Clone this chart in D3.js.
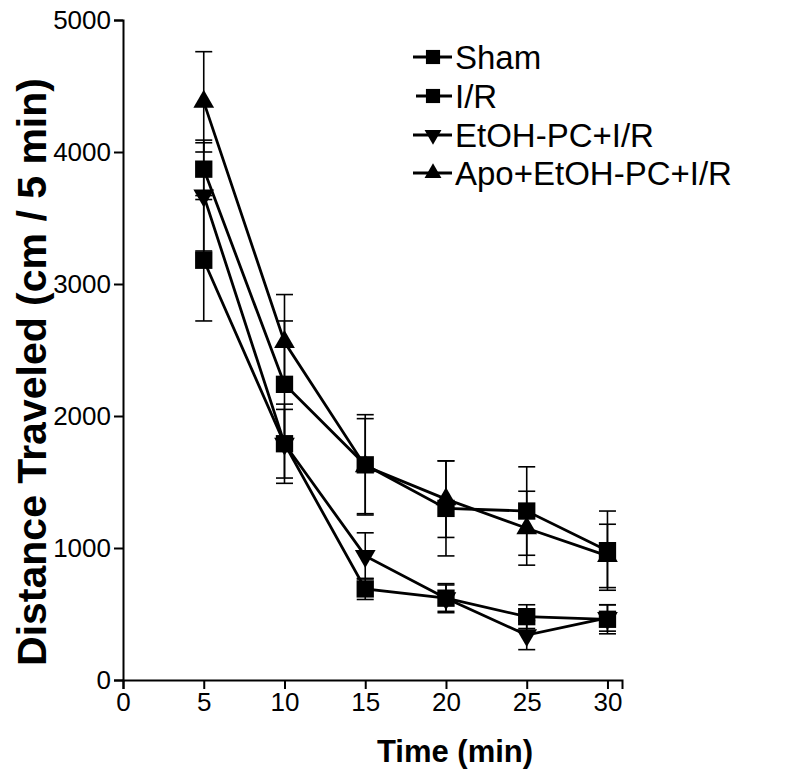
<!DOCTYPE html>
<html><head><meta charset="utf-8">
<script src="https://cdn.jsdelivr.net/npm/d3@7"></script>
<style>body{margin:0;background:#fff}svg{display:block}</style>
</head><body>
<script>
const times = [5, 10, 15, 20, 25, 30];
const seriesNames = ["Sham", "I/R", "EtOH-PC+I/R", "Apo+EtOH-PC+I/R"];
const seriesSymbols = ["square", "square", "down", "up"];
const shamMean = [3180, 1790, 690, 620, 480, 460];
const shamErr  = [460, 260, 80, 110, 90, 110];
const irMean   = [3870, 2240, 1630, 1300, 1280, 980];
const irErr    = [200, 480, 380, 360, 335, 300];
const etohMean = [3670, 1790, 940, 620, 340, 470];
const etohErr  = [420, 300, 175, 100, 110, 100];
const apoMean  = [4380, 2560, 1620, 1370, 1150, 940];
const apoErr   = [380, 360, 360, 290, 280, 240];
const xTicks = [0, 5, 10, 15, 20, 25, 30];
const yTicks = [0, 1000, 2000, 3000, 4000, 5000];
const xTitle = "Time (min)";
const yTitle = "Distance Traveled (cm / 5 min)";

const means = [shamMean, irMean, etohMean, apoMean];
const errs = [shamErr, irErr, etohErr, apoErr];

const W = 800, H = 779;
const svg = d3.select("body").append("svg").attr("width", W).attr("height", H);
const x = d3.scaleLinear().domain([0, 30.9]).range([123, 622]);
const y = d3.scaleLinear().domain([0, 5000]).range([680, 20]);
const font = "'Liberation Sans', Arial, sans-serif";

function symPath(kind, size) {
  if (kind === "square") return d3.symbol(d3.symbolSquare, size)();
  return d3.symbol(d3.symbolTriangle, size * 0.62)();
}
function symTransform(kind, cx, cy) {
  return `translate(${cx},${cy})` + (kind === "down" ? " rotate(180)" : "");
}

// axes
const xAxis = svg.append("g").attr("transform", `translate(0,${y(0)})`)
  .call(d3.axisBottom(x).tickValues(xTicks).tickFormat(d3.format("d")).tickSizeOuter(0).tickSize(9).tickPadding(4));
const yAxis = svg.append("g").attr("transform", `translate(${x(0)},0)`)
  .call(d3.axisLeft(y).tickValues(yTicks).tickFormat(d3.format("d")).tickSizeOuter(0).tickSize(9).tickPadding(3));
[xAxis, yAxis].forEach(g => {
  g.select(".domain").attr("stroke", "#000").attr("stroke-width", 2);
  g.selectAll(".tick line").attr("stroke", "#000").attr("stroke-width", 2);
  g.selectAll(".tick text").attr("font-family", font).attr("font-size", 26).attr("fill", "#000");
});

// error bars
const capW = 17;
means.forEach((m, si) => {
  const g = svg.append("g");
  m.forEach((v, i) => {
    const cx = x(times[i]);
    const lo = y(v - errs[si][i]), hi = y(v + errs[si][i]);
    g.append("line").attr("x1", cx).attr("x2", cx).attr("y1", lo).attr("y2", hi)
      .attr("stroke", "#000").attr("stroke-width", 1.6);
    [lo, hi].forEach(yy => g.append("line").attr("x1", cx - capW / 2).attr("x2", cx + capW / 2)
      .attr("y1", yy).attr("y2", yy).attr("stroke", "#000").attr("stroke-width", 1.6));
  });
});

// lines
const line = d3.line().x((d, i) => x(times[i])).y(d => y(d));
means.forEach(m => {
  svg.append("path").attr("d", line(m)).attr("fill", "none")
    .attr("stroke", "#000").attr("stroke-width", 2.8);
});

// markers
means.forEach((m, si) => {
  const kind = seriesSymbols[si];
  svg.append("g").selectAll("path").data(m).join("path")
    .attr("d", symPath(kind, 300))
    .attr("transform", (d, i) => symTransform(kind, x(times[i]), y(d)))
    .attr("fill", "#000");
});

// legend
const legY = [57, 96, 135, 173];
seriesNames.forEach((name, i) => {
  const g = svg.append("g").attr("transform", `translate(0,${legY[i]})`);
  const x0 = i === 1 ? 416 : 413;
  g.append("line").attr("x1", x0).attr("x2", 452).attr("y1", 0).attr("y2", 0)
    .attr("stroke", "#000").attr("stroke-width", 2.8);
  g.append("path").attr("d", symPath(seriesSymbols[i], 200))
    .attr("transform", symTransform(seriesSymbols[i], 433, 0)).attr("fill", "#000");
  g.append("text").attr("x", 455).attr("y", 12).attr("font-family", font)
    .attr("font-size", 33).attr("fill", "#000").text(name);
});

// titles
svg.append("text").attr("x", 455).attr("y", 762).attr("text-anchor", "middle")
  .attr("font-family", font).attr("font-weight", "bold").attr("font-size", 31).text(xTitle);
svg.append("text").attr("transform", "translate(46,372) rotate(-90)").attr("text-anchor", "middle")
  .attr("font-family", font).attr("font-weight", "bold").attr("font-size", 41).text(yTitle);
</script>
</body></html>
